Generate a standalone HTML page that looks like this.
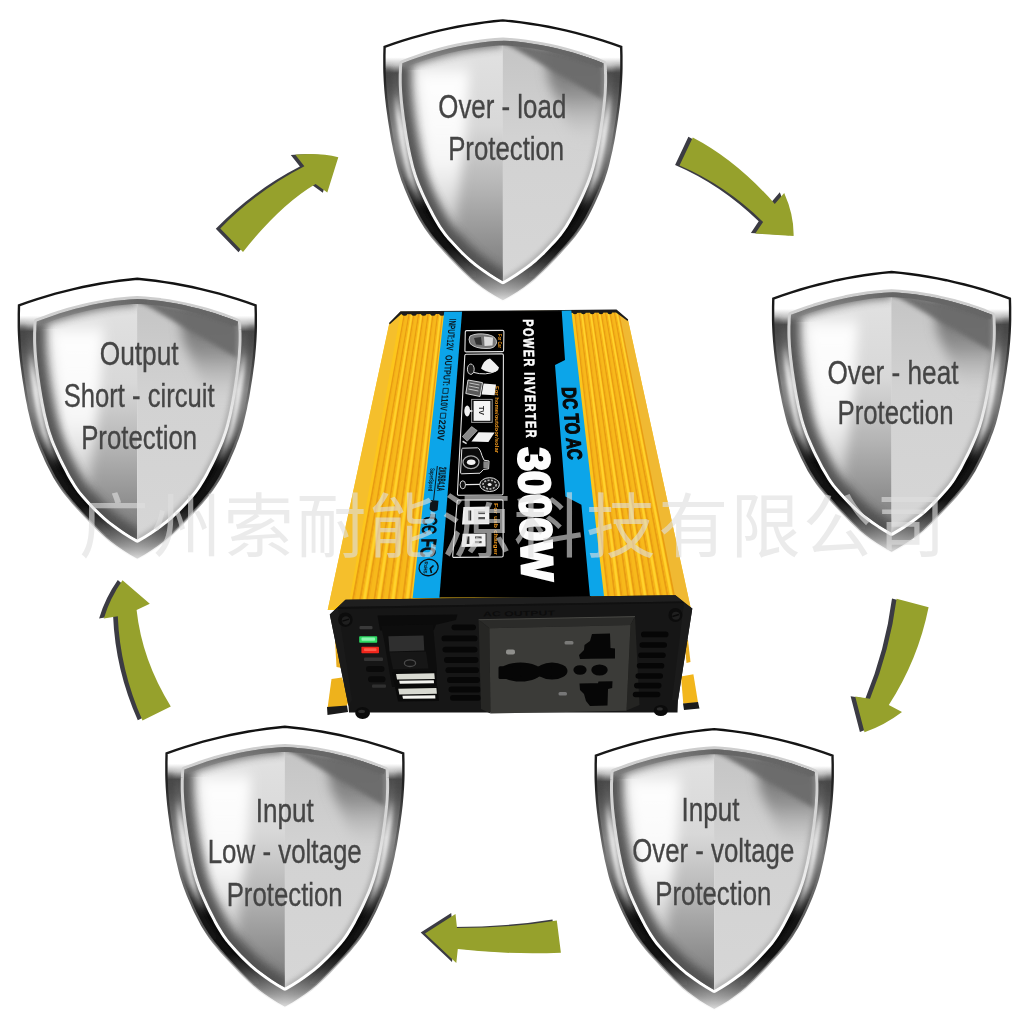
<!DOCTYPE html>
<html><head><meta charset="utf-8"><title>Power inverter protections</title>
<style>
html,body{margin:0;padding:0;background:#fff;}
body{width:1024px;height:1024px;overflow:hidden;font-family:"Liberation Sans",sans-serif;}
svg{display:block}
</style></head><body>
<svg width="1024" height="1024" viewBox="0 0 1024 1024">

<defs>
<linearGradient id="rimG" gradientUnits="userSpaceOnUse" x1="0" y1="0" x2="0" y2="284">
<stop offset="0" stop-color="#fff"/><stop offset=".13" stop-color="#fff"/>
<stop offset=".158" stop-color="#c0c0c0"/><stop offset=".185" stop-color="#4c4c4c"/>
<stop offset=".235" stop-color="#5c5c5c"/><stop offset=".30" stop-color="#868686"/><stop offset=".39" stop-color="#c0c0c0"/>
<stop offset=".47" stop-color="#9a9a9a"/><stop offset=".55" stop-color="#666"/>
<stop offset=".61" stop-color="#333"/><stop offset=".67" stop-color="#0a0a0a"/><stop offset=".80" stop-color="#0c0c0c"/>
<stop offset=".85" stop-color="#333"/><stop offset=".90" stop-color="#6a6a6a"/><stop offset=".94" stop-color="#9c9c9c"/>
<stop offset=".975" stop-color="#cfcfcf"/><stop offset="1" stop-color="#f2f2f2"/>
</linearGradient>
<linearGradient id="olG" gradientUnits="userSpaceOnUse" x1="0" y1="0" x2="0" y2="284">
<stop offset="0" stop-color="#111"/><stop offset=".2" stop-color="#222"/>
<stop offset=".45" stop-color="#777"/><stop offset=".7" stop-color="#555"/>
<stop offset=".88" stop-color="#999" stop-opacity=".5"/><stop offset="1" stop-color="#ccc" stop-opacity="0"/>
</linearGradient>
<linearGradient id="bevG" gradientUnits="userSpaceOnUse" x1="0" y1="20" x2="0" y2="265">
<stop offset="0" stop-color="#cdcdcd"/><stop offset=".3" stop-color="#d6d6d6"/><stop offset=".55" stop-color="#eee"/><stop offset=".75" stop-color="#fff"/><stop offset="1" stop-color="#fff"/>
</linearGradient>
<linearGradient id="faceL" gradientUnits="userSpaceOnUse" x1="0" y1="21" x2="0" y2="262">
<stop offset="0" stop-color="#e2e2e2"/><stop offset=".35" stop-color="#d8d8d8"/><stop offset=".6" stop-color="#b6b6b6"/>
<stop offset=".85" stop-color="#8e8e8e"/><stop offset="1" stop-color="#787878"/>
</linearGradient>
<linearGradient id="faceR" gradientUnits="userSpaceOnUse" x1="0" y1="21" x2="0" y2="262">
<stop offset="0" stop-color="#c4c4c4"/><stop offset=".4" stop-color="#d2d2d2"/><stop offset="1" stop-color="#d6d6d6"/>
</linearGradient>
<linearGradient id="shadR" gradientUnits="userSpaceOnUse" x1="0" y1="25" x2="0" y2="100">
<stop offset="0" stop-color="#666" stop-opacity="1"/><stop offset=".3" stop-color="#777" stop-opacity=".95"/><stop offset=".6" stop-color="#999" stop-opacity=".6"/><stop offset="1" stop-color="#d2d2d2" stop-opacity="0"/>
</linearGradient>
<linearGradient id="shadR2" gradientUnits="userSpaceOnUse" x1="0" y1="40" x2="0" y2="122">
<stop offset="0" stop-color="#707070" stop-opacity="1"/><stop offset=".4" stop-color="#858585" stop-opacity=".85"/><stop offset="1" stop-color="#c8c8c8" stop-opacity="0"/>
</linearGradient>
<linearGradient id="hlMask" gradientUnits="userSpaceOnUse" x1="0" y1="40" x2="0" y2="262">
<stop offset="0" stop-color="#fff" stop-opacity=".0"/><stop offset=".08" stop-color="#fff" stop-opacity=".95"/><stop offset=".45" stop-color="#fff" stop-opacity=".85"/>
<stop offset=".8" stop-color="#fff" stop-opacity=".25"/><stop offset="1" stop-color="#fff" stop-opacity="0"/>
</linearGradient>
<linearGradient id="rimHl" gradientUnits="userSpaceOnUse" x1="0" y1="0" x2="0" y2="284">
<stop offset="0" stop-color="#fff" stop-opacity="0"/><stop offset=".26" stop-color="#fff" stop-opacity=".0"/><stop offset=".34" stop-color="#fff" stop-opacity=".8"/><stop offset=".42" stop-color="#fff" stop-opacity="1"/>
<stop offset=".55" stop-color="#fff" stop-opacity=".8"/><stop offset=".65" stop-color="#fff" stop-opacity="0"/><stop offset="1" stop-color="#fff" stop-opacity="0"/>
</linearGradient>
<linearGradient id="rimDk" gradientUnits="userSpaceOnUse" x1="0" y1="0" x2="0" y2="284">
<stop offset="0" stop-color="#444" stop-opacity="0"/><stop offset=".15" stop-color="#444" stop-opacity="0"/><stop offset=".2" stop-color="#444" stop-opacity=".8"/>
<stop offset=".3" stop-color="#555" stop-opacity=".7"/><stop offset=".45" stop-color="#666" stop-opacity=".6"/><stop offset=".6" stop-color="#333" stop-opacity=".3"/><stop offset="1" stop-color="#333" stop-opacity="0"/>
</linearGradient>
<linearGradient id="bandG" gradientUnits="userSpaceOnUse" x1="-101" y1="0" x2="101" y2="0">
<stop offset="0" stop-color="#777" stop-opacity=".25"/><stop offset=".3" stop-color="#6e6e6e" stop-opacity=".7"/><stop offset=".5" stop-color="#666" stop-opacity="1"/><stop offset="1" stop-color="#666" stop-opacity=".9"/>
</linearGradient>
<filter id="b05" x="-10%" y="-30%" width="120%" height="160%"><feGaussianBlur stdDeviation=".6"/></filter>
<filter id="b1" x="-20%" y="-20%" width="140%" height="140%"><feGaussianBlur stdDeviation="1"/></filter>
<filter id="b2" x="-20%" y="-20%" width="140%" height="140%"><feGaussianBlur stdDeviation="2"/></filter>
<filter id="b4" x="-30%" y="-30%" width="160%" height="160%"><feGaussianBlur stdDeviation="4"/></filter>
<filter id="b6" x="-30%" y="-30%" width="160%" height="160%"><feGaussianBlur stdDeviation="6"/></filter>
<clipPath id="cFace"><path d="M-0,20.2 L-7.7,20.7 L-15.5,21.4 L-23.2,22.3 L-31,23.5 L-38.7,24.8 L-46.4,26.3 L-54.2,28.1 L-61.9,30 L-69.6,32.2 L-77.4,34.5 L-85.1,37.1 L-92.9,39.9 L-100.6,42.8 L-100.9,46.9 L-101,50.6 L-101.2,54.3 L-101.2,58 L-101.2,61.6 L-101.1,65.3 L-100.9,69 L-100.7,72.7 L-100.4,76.4 L-100.1,80.1 L-99.7,83.8 L-99.3,87.5 L-98.8,91.1 L-98.4,94.8 L-97.9,98.5 L-97.3,102.2 L-96.8,105.9 L-96.2,109.6 L-95.6,113.3 L-95,117 L-94.3,120.7 L-93.7,124.3 L-92.9,128 L-92.2,131.7 L-91.4,135.4 L-90.5,139.1 L-89.6,142.8 L-88.7,146.5 L-87.6,150.2 L-86.5,153.8 L-85.2,157.5 L-83.9,161.2 L-82.4,164.9 L-80.8,168.6 L-79.2,172.3 L-77.5,176 L-75.8,179.7 L-74,183.3 L-72.1,187 L-70.2,190.7 L-68.3,194.4 L-66.2,198.1 L-64,201.8 L-61.8,205.5 L-59.3,209.2 L-56.6,212.9 L-53.6,216.5 L-50.3,220.2 L-46.9,223.9 L-43.4,227.6 L-39.8,231.3 L-35.9,235 L-31.9,238.7 L-27.5,242.4 L-22.7,246 L-17.6,249.7 L-12.2,253.4 L-6.3,257.1 L-0,260.8 L6.3,257.1 L12.2,253.4 L17.6,249.7 L22.7,246 L27.5,242.4 L31.9,238.7 L35.9,235 L39.8,231.3 L43.4,227.6 L46.9,223.9 L50.3,220.2 L53.6,216.5 L56.6,212.9 L59.3,209.2 L61.8,205.5 L64,201.8 L66.2,198.1 L68.3,194.4 L70.2,190.7 L72.1,187 L74,183.3 L75.8,179.7 L77.5,176 L79.2,172.3 L80.8,168.6 L82.4,164.9 L83.9,161.2 L85.2,157.5 L86.5,153.8 L87.6,150.2 L88.7,146.5 L89.6,142.8 L90.5,139.1 L91.4,135.4 L92.2,131.7 L92.9,128 L93.7,124.3 L94.3,120.7 L95,117 L95.6,113.3 L96.2,109.6 L96.8,105.9 L97.3,102.2 L97.9,98.5 L98.4,94.8 L98.8,91.1 L99.3,87.5 L99.7,83.8 L100.1,80.1 L100.4,76.4 L100.7,72.7 L100.9,69 L101.1,65.3 L101.2,61.6 L101.2,58 L101.2,54.3 L101,50.6 L100.9,46.9 L100.6,43.2 L92.9,39.9 L85.1,37.1 L77.4,34.5 L69.6,32.2 L61.9,30 L54.2,28.1 L46.4,26.3 L38.7,24.8 L31,23.5 L23.2,22.3 L15.5,21.4 L7.7,20.7 L0,20.2Z"/></clipPath>
<clipPath id="cFaceL"><path d="M-0,20.2 L-7.7,20.7 L-15.5,21.4 L-23.2,22.3 L-31,23.5 L-38.7,24.8 L-46.4,26.3 L-54.2,28.1 L-61.9,30 L-69.6,32.2 L-77.4,34.5 L-85.1,37.1 L-92.9,39.9 L-100.6,42.8 L-100.9,46.9 L-101,50.6 L-101.2,54.3 L-101.2,58 L-101.2,61.6 L-101.1,65.3 L-100.9,69 L-100.7,72.7 L-100.4,76.4 L-100.1,80.1 L-99.7,83.8 L-99.3,87.5 L-98.8,91.1 L-98.4,94.8 L-97.9,98.5 L-97.3,102.2 L-96.8,105.9 L-96.2,109.6 L-95.6,113.3 L-95,117 L-94.3,120.7 L-93.7,124.3 L-92.9,128 L-92.2,131.7 L-91.4,135.4 L-90.5,139.1 L-89.6,142.8 L-88.7,146.5 L-87.6,150.2 L-86.5,153.8 L-85.2,157.5 L-83.9,161.2 L-82.4,164.9 L-80.8,168.6 L-79.2,172.3 L-77.5,176 L-75.8,179.7 L-74,183.3 L-72.1,187 L-70.2,190.7 L-68.3,194.4 L-66.2,198.1 L-64,201.8 L-61.8,205.5 L-59.3,209.2 L-56.6,212.9 L-53.6,216.5 L-50.3,220.2 L-46.9,223.9 L-43.4,227.6 L-39.8,231.3 L-35.9,235 L-31.9,238.7 L-27.5,242.4 L-22.7,246 L-17.6,249.7 L-12.2,253.4 L-6.3,257.1 L-0,260.8Z"/></clipPath>
<clipPath id="cFaceR"><path d="M0,20.2 L7.7,20.7 L15.5,21.4 L23.2,22.3 L31,23.5 L38.7,24.8 L46.4,26.3 L54.2,28.1 L61.9,30 L69.6,32.2 L77.4,34.5 L85.1,37.1 L92.9,39.9 L100.6,42.8 L100.9,46.9 L101,50.6 L101.2,54.3 L101.2,58 L101.2,61.6 L101.1,65.3 L100.9,69 L100.7,72.7 L100.4,76.4 L100.1,80.1 L99.7,83.8 L99.3,87.5 L98.8,91.1 L98.4,94.8 L97.9,98.5 L97.3,102.2 L96.8,105.9 L96.2,109.6 L95.6,113.3 L95,117 L94.3,120.7 L93.7,124.3 L92.9,128 L92.2,131.7 L91.4,135.4 L90.5,139.1 L89.6,142.8 L88.7,146.5 L87.6,150.2 L86.5,153.8 L85.2,157.5 L83.9,161.2 L82.4,164.9 L80.8,168.6 L79.2,172.3 L77.5,176 L75.8,179.7 L74,183.3 L72.1,187 L70.2,190.7 L68.3,194.4 L66.2,198.1 L64,201.8 L61.8,205.5 L59.3,209.2 L56.6,212.9 L53.6,216.5 L50.3,220.2 L46.9,223.9 L43.4,227.6 L39.8,231.3 L35.9,235 L31.9,238.7 L27.5,242.4 L22.7,246 L17.6,249.7 L12.2,253.4 L6.3,257.1 L0,260.8Z"/></clipPath>
<clipPath id="cOuter"><path d="M-0,0 L-9.1,0.9 L-18.2,2 L-27.3,3.3 L-36.4,4.7 L-45.5,6.4 L-54.6,8.2 L-63.7,10.3 L-72.8,12.5 L-81.9,14.9 L-91,17.5 L-100.1,20.3 L-109.2,23.3 L-118.3,26.5 L-118.4,30.8 L-118.5,35.1 L-118.5,39.4 L-118.5,43.7 L-118.5,48 L-118.4,52.3 L-118.2,56.6 L-118,60.9 L-117.7,65.2 L-117.4,69.4 L-117,73.7 L-116.6,78 L-116.1,82.3 L-115.6,86.6 L-115,90.9 L-114.4,95.2 L-113.8,99.5 L-113.1,103.8 L-112.4,108.1 L-111.7,112.4 L-111,116.7 L-110.2,121 L-109.3,125.3 L-108.5,129.6 L-107.5,133.9 L-106.5,138.2 L-105.5,142.5 L-104.4,146.8 L-103.2,151.1 L-101.8,155.3 L-100.4,159.6 L-98.7,163.9 L-97.1,168.2 L-95.3,172.5 L-93.4,176.8 L-91.5,181.1 L-89.5,185.4 L-87.3,189.7 L-85.1,194 L-82.8,198.3 L-80.2,202.6 L-77.5,206.9 L-74.5,211.2 L-71.3,215.5 L-67.8,219.8 L-64.2,224.1 L-60.4,228.4 L-56.5,232.7 L-52.6,237 L-48.6,241.2 L-44.5,245.5 L-40.3,249.8 L-35.9,254.1 L-31.4,258.4 L-26.3,262.7 L-20.6,267 L-14.4,271.3 L-7.5,275.6 L0,279.9 L7.5,275.6 L14.4,271.3 L20.6,267 L26.3,262.7 L31.4,258.4 L35.9,254.1 L40.3,249.8 L44.5,245.5 L48.6,241.2 L52.6,237 L56.5,232.7 L60.4,228.4 L64.2,224.1 L67.8,219.8 L71.3,215.5 L74.5,211.2 L77.5,206.9 L80.2,202.6 L82.8,198.3 L85.1,194 L87.3,189.7 L89.5,185.4 L91.5,181.1 L93.4,176.8 L95.3,172.5 L97.1,168.2 L98.7,163.9 L100.4,159.6 L101.8,155.3 L103.2,151.1 L104.4,146.8 L105.5,142.5 L106.5,138.2 L107.5,133.9 L108.5,129.6 L109.3,125.3 L110.2,121 L111,116.7 L111.7,112.4 L112.4,108.1 L113.1,103.8 L113.8,99.5 L114.4,95.2 L115,90.9 L115.6,86.6 L116.1,82.3 L116.6,78 L117,73.7 L117.4,69.4 L117.7,65.2 L118,60.9 L118.2,56.6 L118.4,52.3 L118.5,48 L118.5,43.7 L118.5,39.4 L118.5,35.1 L118.4,30.8 L118.3,26.5 L109.2,23.3 L100.1,20.3 L91,17.5 L81.9,14.9 L72.8,12.5 L63.7,10.3 L54.6,8.2 L45.5,6.4 L36.4,4.7 L27.3,3.3 L18.2,2 L9.1,0.9 L0,0Z"/></clipPath>
<g id="shield">
  <path d="M-0,0 L-9.1,0.9 L-18.2,2 L-27.3,3.3 L-36.4,4.7 L-45.5,6.4 L-54.6,8.2 L-63.7,10.3 L-72.8,12.5 L-81.9,14.9 L-91,17.5 L-100.1,20.3 L-109.2,23.3 L-118.3,26.5 L-118.4,30.8 L-118.5,35.1 L-118.5,39.4 L-118.5,43.7 L-118.5,48 L-118.4,52.3 L-118.2,56.6 L-118,60.9 L-117.7,65.2 L-117.4,69.4 L-117,73.7 L-116.6,78 L-116.1,82.3 L-115.6,86.6 L-115,90.9 L-114.4,95.2 L-113.8,99.5 L-113.1,103.8 L-112.4,108.1 L-111.7,112.4 L-111,116.7 L-110.2,121 L-109.3,125.3 L-108.5,129.6 L-107.5,133.9 L-106.5,138.2 L-105.5,142.5 L-104.4,146.8 L-103.2,151.1 L-101.8,155.3 L-100.4,159.6 L-98.7,163.9 L-97.1,168.2 L-95.3,172.5 L-93.4,176.8 L-91.5,181.1 L-89.5,185.4 L-87.3,189.7 L-85.1,194 L-82.8,198.3 L-80.2,202.6 L-77.5,206.9 L-74.5,211.2 L-71.3,215.5 L-67.8,219.8 L-64.2,224.1 L-60.4,228.4 L-56.5,232.7 L-52.6,237 L-48.6,241.2 L-44.5,245.5 L-40.3,249.8 L-35.9,254.1 L-31.4,258.4 L-26.3,262.7 L-20.6,267 L-14.4,271.3 L-7.5,275.6 L0,279.9 L7.5,275.6 L14.4,271.3 L20.6,267 L26.3,262.7 L31.4,258.4 L35.9,254.1 L40.3,249.8 L44.5,245.5 L48.6,241.2 L52.6,237 L56.5,232.7 L60.4,228.4 L64.2,224.1 L67.8,219.8 L71.3,215.5 L74.5,211.2 L77.5,206.9 L80.2,202.6 L82.8,198.3 L85.1,194 L87.3,189.7 L89.5,185.4 L91.5,181.1 L93.4,176.8 L95.3,172.5 L97.1,168.2 L98.7,163.9 L100.4,159.6 L101.8,155.3 L103.2,151.1 L104.4,146.8 L105.5,142.5 L106.5,138.2 L107.5,133.9 L108.5,129.6 L109.3,125.3 L110.2,121 L111,116.7 L111.7,112.4 L112.4,108.1 L113.1,103.8 L113.8,99.5 L114.4,95.2 L115,90.9 L115.6,86.6 L116.1,82.3 L116.6,78 L117,73.7 L117.4,69.4 L117.7,65.2 L118,60.9 L118.2,56.6 L118.4,52.3 L118.5,48 L118.5,43.7 L118.5,39.4 L118.5,35.1 L118.4,30.8 L118.3,26.5 L109.2,23.3 L100.1,20.3 L91,17.5 L81.9,14.9 L72.8,12.5 L63.7,10.3 L54.6,8.2 L45.5,6.4 L36.4,4.7 L27.3,3.3 L18.2,2 L9.1,0.9 L0,0Z" fill="url(#rimG)"/>
  <g clip-path="url(#cOuter)">
    <path d="M-0,10.5 L-8.4,11.2 L-16.8,12.1 L-25.2,13.1 L-33.5,14.4 L-41.9,15.9 L-50.3,17.6 L-58.7,19.4 L-67.1,21.5 L-75.5,23.8 L-83.8,26.2 L-92.2,28.9 L-100.6,31.7 L-109,34.8 L-109.1,39 L-109.2,43 L-109.3,47 L-109.3,51 L-109.3,55 L-109.1,59 L-109,63 L-108.8,66.9 L-108.5,70.9 L-108.2,74.9 L-107.8,78.9 L-107.4,82.9 L-107,86.9 L-106.5,90.9 L-106,94.9 L-105.4,98.9 L-104.8,102.9 L-104.2,106.9 L-103.6,110.9 L-102.9,114.9 L-102.3,118.9 L-101.5,122.9 L-100.8,126.8 L-100,130.8 L-99.1,134.8 L-98.2,138.8 L-97.2,142.8 L-96.2,146.8 L-95.1,150.8 L-93.8,154.8 L-92.4,158.8 L-90.9,162.8 L-89.4,166.8 L-87.7,170.8 L-86,174.8 L-84.2,178.8 L-82.4,182.7 L-80.6,186.7 L-78.7,190.7 L-76.7,194.7 L-74.6,198.7 L-72.4,202.7 L-69.9,206.7 L-67.2,210.7 L-64.2,214.7 L-60.8,218.7 L-57.2,222.7 L-53.5,226.7 L-49.8,230.7 L-45.9,234.7 L-41.9,238.7 L-37.9,242.6 L-33.7,246.6 L-29.2,250.6 L-24.3,254.6 L-18.8,258.6 L-12.8,262.6 L-6.5,266.6 L-0,270.6 L6.5,266.6 L12.8,262.6 L18.8,258.6 L24.3,254.6 L29.2,250.6 L33.7,246.6 L37.9,242.6 L41.9,238.7 L45.9,234.7 L49.8,230.7 L53.5,226.7 L57.2,222.7 L60.8,218.7 L64.2,214.7 L67.2,210.7 L69.9,206.7 L72.4,202.7 L74.6,198.7 L76.7,194.7 L78.7,190.7 L80.6,186.7 L82.4,182.7 L84.2,178.8 L86,174.8 L87.7,170.8 L89.4,166.8 L90.9,162.8 L92.4,158.8 L93.8,154.8 L95.1,150.8 L96.2,146.8 L97.2,142.8 L98.2,138.8 L99.1,134.8 L100,130.8 L100.8,126.8 L101.5,122.9 L102.3,118.9 L102.9,114.9 L103.6,110.9 L104.2,106.9 L104.8,102.9 L105.4,98.9 L106,94.9 L106.5,90.9 L107,86.9 L107.4,82.9 L107.8,78.9 L108.2,74.9 L108.5,70.9 L108.8,66.9 L109,63 L109.1,59 L109.3,55 L109.3,51 L109.3,47 L109.2,43 L109.1,39 L109,35 L100.6,31.7 L92.2,28.9 L83.8,26.2 L75.5,23.8 L67.1,21.5 L58.7,19.4 L50.3,17.6 L41.9,15.9 L33.5,14.4 L25.2,13.1 L16.8,12.1 L8.4,11.2 L0,10.5Z" fill="none" stroke="url(#rimHl)" stroke-width="6" filter="url(#b2)"/>
  </g>
  <g clip-path="url(#cOuter)"><path d="M-0,0 L-9.1,0.9 L-18.2,2 L-27.3,3.3 L-36.4,4.7 L-45.5,6.4 L-54.6,8.2 L-63.7,10.3 L-72.8,12.5 L-81.9,14.9 L-91,17.5 L-100.1,20.3 L-109.2,23.3 L-118.3,26.5 L-118.4,30.8 L-118.5,35.1 L-118.5,39.4 L-118.5,43.7 L-118.5,48 L-118.4,52.3 L-118.2,56.6 L-118,60.9 L-117.7,65.2 L-117.4,69.4 L-117,73.7 L-116.6,78 L-116.1,82.3 L-115.6,86.6 L-115,90.9 L-114.4,95.2 L-113.8,99.5 L-113.1,103.8 L-112.4,108.1 L-111.7,112.4 L-111,116.7 L-110.2,121 L-109.3,125.3 L-108.5,129.6 L-107.5,133.9 L-106.5,138.2 L-105.5,142.5 L-104.4,146.8 L-103.2,151.1 L-101.8,155.3 L-100.4,159.6 L-98.7,163.9 L-97.1,168.2 L-95.3,172.5 L-93.4,176.8 L-91.5,181.1 L-89.5,185.4 L-87.3,189.7 L-85.1,194 L-82.8,198.3 L-80.2,202.6 L-77.5,206.9 L-74.5,211.2 L-71.3,215.5 L-67.8,219.8 L-64.2,224.1 L-60.4,228.4 L-56.5,232.7 L-52.6,237 L-48.6,241.2 L-44.5,245.5 L-40.3,249.8 L-35.9,254.1 L-31.4,258.4 L-26.3,262.7 L-20.6,267 L-14.4,271.3 L-7.5,275.6 L0,279.9 L7.5,275.6 L14.4,271.3 L20.6,267 L26.3,262.7 L31.4,258.4 L35.9,254.1 L40.3,249.8 L44.5,245.5 L48.6,241.2 L52.6,237 L56.5,232.7 L60.4,228.4 L64.2,224.1 L67.8,219.8 L71.3,215.5 L74.5,211.2 L77.5,206.9 L80.2,202.6 L82.8,198.3 L85.1,194 L87.3,189.7 L89.5,185.4 L91.5,181.1 L93.4,176.8 L95.3,172.5 L97.1,168.2 L98.7,163.9 L100.4,159.6 L101.8,155.3 L103.2,151.1 L104.4,146.8 L105.5,142.5 L106.5,138.2 L107.5,133.9 L108.5,129.6 L109.3,125.3 L110.2,121 L111,116.7 L111.7,112.4 L112.4,108.1 L113.1,103.8 L113.8,99.5 L114.4,95.2 L115,90.9 L115.6,86.6 L116.1,82.3 L116.6,78 L117,73.7 L117.4,69.4 L117.7,65.2 L118,60.9 L118.2,56.6 L118.4,52.3 L118.5,48 L118.5,43.7 L118.5,39.4 L118.5,35.1 L118.4,30.8 L118.3,26.5 L109.2,23.3 L100.1,20.3 L91,17.5 L81.9,14.9 L72.8,12.5 L63.7,10.3 L54.6,8.2 L45.5,6.4 L36.4,4.7 L27.3,3.3 L18.2,2 L9.1,0.9 L0,0Z" fill="none" stroke="url(#rimDk)" stroke-width="15" filter="url(#b2)"/></g>
  <path d="M-0,0 L-9.1,0.9 L-18.2,2 L-27.3,3.3 L-36.4,4.7 L-45.5,6.4 L-54.6,8.2 L-63.7,10.3 L-72.8,12.5 L-81.9,14.9 L-91,17.5 L-100.1,20.3 L-109.2,23.3 L-118.3,26.5 L-118.4,30.8 L-118.5,35.1 L-118.5,39.4 L-118.5,43.7 L-118.5,48 L-118.4,52.3 L-118.2,56.6 L-118,60.9 L-117.7,65.2 L-117.4,69.4 L-117,73.7 L-116.6,78 L-116.1,82.3 L-115.6,86.6 L-115,90.9 L-114.4,95.2 L-113.8,99.5 L-113.1,103.8 L-112.4,108.1 L-111.7,112.4 L-111,116.7 L-110.2,121 L-109.3,125.3 L-108.5,129.6 L-107.5,133.9 L-106.5,138.2 L-105.5,142.5 L-104.4,146.8 L-103.2,151.1 L-101.8,155.3 L-100.4,159.6 L-98.7,163.9 L-97.1,168.2 L-95.3,172.5 L-93.4,176.8 L-91.5,181.1 L-89.5,185.4 L-87.3,189.7 L-85.1,194 L-82.8,198.3 L-80.2,202.6 L-77.5,206.9 L-74.5,211.2 L-71.3,215.5 L-67.8,219.8 L-64.2,224.1 L-60.4,228.4 L-56.5,232.7 L-52.6,237 L-48.6,241.2 L-44.5,245.5 L-40.3,249.8 L-35.9,254.1 L-31.4,258.4 L-26.3,262.7 L-20.6,267 L-14.4,271.3 L-7.5,275.6 L0,279.9 L7.5,275.6 L14.4,271.3 L20.6,267 L26.3,262.7 L31.4,258.4 L35.9,254.1 L40.3,249.8 L44.5,245.5 L48.6,241.2 L52.6,237 L56.5,232.7 L60.4,228.4 L64.2,224.1 L67.8,219.8 L71.3,215.5 L74.5,211.2 L77.5,206.9 L80.2,202.6 L82.8,198.3 L85.1,194 L87.3,189.7 L89.5,185.4 L91.5,181.1 L93.4,176.8 L95.3,172.5 L97.1,168.2 L98.7,163.9 L100.4,159.6 L101.8,155.3 L103.2,151.1 L104.4,146.8 L105.5,142.5 L106.5,138.2 L107.5,133.9 L108.5,129.6 L109.3,125.3 L110.2,121 L111,116.7 L111.7,112.4 L112.4,108.1 L113.1,103.8 L113.8,99.5 L114.4,95.2 L115,90.9 L115.6,86.6 L116.1,82.3 L116.6,78 L117,73.7 L117.4,69.4 L117.7,65.2 L118,60.9 L118.2,56.6 L118.4,52.3 L118.5,48 L118.5,43.7 L118.5,39.4 L118.5,35.1 L118.4,30.8 L118.3,26.5 L109.2,23.3 L100.1,20.3 L91,17.5 L81.9,14.9 L72.8,12.5 L63.7,10.3 L54.6,8.2 L45.5,6.4 L36.4,4.7 L27.3,3.3 L18.2,2 L9.1,0.9 L0,0Z" fill="none" stroke="url(#olG)" stroke-width="2.4" stroke-linejoin="miter"/>
  <path d="M-0,20.2 L-7.7,20.7 L-15.5,21.4 L-23.2,22.3 L-31,23.5 L-38.7,24.8 L-46.4,26.3 L-54.2,28.1 L-61.9,30 L-69.6,32.2 L-77.4,34.5 L-85.1,37.1 L-92.9,39.9 L-100.6,42.8 L-100.9,46.9 L-101,50.6 L-101.2,54.3 L-101.2,58 L-101.2,61.6 L-101.1,65.3 L-100.9,69 L-100.7,72.7 L-100.4,76.4 L-100.1,80.1 L-99.7,83.8 L-99.3,87.5 L-98.8,91.1 L-98.4,94.8 L-97.9,98.5 L-97.3,102.2 L-96.8,105.9 L-96.2,109.6 L-95.6,113.3 L-95,117 L-94.3,120.7 L-93.7,124.3 L-92.9,128 L-92.2,131.7 L-91.4,135.4 L-90.5,139.1 L-89.6,142.8 L-88.7,146.5 L-87.6,150.2 L-86.5,153.8 L-85.2,157.5 L-83.9,161.2 L-82.4,164.9 L-80.8,168.6 L-79.2,172.3 L-77.5,176 L-75.8,179.7 L-74,183.3 L-72.1,187 L-70.2,190.7 L-68.3,194.4 L-66.2,198.1 L-64,201.8 L-61.8,205.5 L-59.3,209.2 L-56.6,212.9 L-53.6,216.5 L-50.3,220.2 L-46.9,223.9 L-43.4,227.6 L-39.8,231.3 L-35.9,235 L-31.9,238.7 L-27.5,242.4 L-22.7,246 L-17.6,249.7 L-12.2,253.4 L-6.3,257.1 L-0,260.8 L6.3,257.1 L12.2,253.4 L17.6,249.7 L22.7,246 L27.5,242.4 L31.9,238.7 L35.9,235 L39.8,231.3 L43.4,227.6 L46.9,223.9 L50.3,220.2 L53.6,216.5 L56.6,212.9 L59.3,209.2 L61.8,205.5 L64,201.8 L66.2,198.1 L68.3,194.4 L70.2,190.7 L72.1,187 L74,183.3 L75.8,179.7 L77.5,176 L79.2,172.3 L80.8,168.6 L82.4,164.9 L83.9,161.2 L85.2,157.5 L86.5,153.8 L87.6,150.2 L88.7,146.5 L89.6,142.8 L90.5,139.1 L91.4,135.4 L92.2,131.7 L92.9,128 L93.7,124.3 L94.3,120.7 L95,117 L95.6,113.3 L96.2,109.6 L96.8,105.9 L97.3,102.2 L97.9,98.5 L98.4,94.8 L98.8,91.1 L99.3,87.5 L99.7,83.8 L100.1,80.1 L100.4,76.4 L100.7,72.7 L100.9,69 L101.1,65.3 L101.2,61.6 L101.2,58 L101.2,54.3 L101,50.6 L100.9,46.9 L100.6,43.2 L92.9,39.9 L85.1,37.1 L77.4,34.5 L69.6,32.2 L61.9,30 L54.2,28.1 L46.4,26.3 L38.7,24.8 L31,23.5 L23.2,22.3 L15.5,21.4 L7.7,20.7 L0,20.2Z" fill="url(#bevG)" stroke="url(#bevG)" stroke-width="6" stroke-linejoin="round"/>
  <path d="M-0,20.2 L-7.7,20.7 L-15.5,21.4 L-23.2,22.3 L-31,23.5 L-38.7,24.8 L-46.4,26.3 L-54.2,28.1 L-61.9,30 L-69.6,32.2 L-77.4,34.5 L-85.1,37.1 L-92.9,39.9 L-100.6,42.8 L-100.9,46.9 L-101,50.6 L-101.2,54.3 L-101.2,58 L-101.2,61.6 L-101.1,65.3 L-100.9,69 L-100.7,72.7 L-100.4,76.4 L-100.1,80.1 L-99.7,83.8 L-99.3,87.5 L-98.8,91.1 L-98.4,94.8 L-97.9,98.5 L-97.3,102.2 L-96.8,105.9 L-96.2,109.6 L-95.6,113.3 L-95,117 L-94.3,120.7 L-93.7,124.3 L-92.9,128 L-92.2,131.7 L-91.4,135.4 L-90.5,139.1 L-89.6,142.8 L-88.7,146.5 L-87.6,150.2 L-86.5,153.8 L-85.2,157.5 L-83.9,161.2 L-82.4,164.9 L-80.8,168.6 L-79.2,172.3 L-77.5,176 L-75.8,179.7 L-74,183.3 L-72.1,187 L-70.2,190.7 L-68.3,194.4 L-66.2,198.1 L-64,201.8 L-61.8,205.5 L-59.3,209.2 L-56.6,212.9 L-53.6,216.5 L-50.3,220.2 L-46.9,223.9 L-43.4,227.6 L-39.8,231.3 L-35.9,235 L-31.9,238.7 L-27.5,242.4 L-22.7,246 L-17.6,249.7 L-12.2,253.4 L-6.3,257.1 L-0,260.8Z" fill="url(#faceL)"/>
  <path d="M0,20.2 L7.7,20.7 L15.5,21.4 L23.2,22.3 L31,23.5 L38.7,24.8 L46.4,26.3 L54.2,28.1 L61.9,30 L69.6,32.2 L77.4,34.5 L85.1,37.1 L92.9,39.9 L100.6,42.8 L100.9,46.9 L101,50.6 L101.2,54.3 L101.2,58 L101.2,61.6 L101.1,65.3 L100.9,69 L100.7,72.7 L100.4,76.4 L100.1,80.1 L99.7,83.8 L99.3,87.5 L98.8,91.1 L98.4,94.8 L97.9,98.5 L97.3,102.2 L96.8,105.9 L96.2,109.6 L95.6,113.3 L95,117 L94.3,120.7 L93.7,124.3 L92.9,128 L92.2,131.7 L91.4,135.4 L90.5,139.1 L89.6,142.8 L88.7,146.5 L87.6,150.2 L86.5,153.8 L85.2,157.5 L83.9,161.2 L82.4,164.9 L80.8,168.6 L79.2,172.3 L77.5,176 L75.8,179.7 L74,183.3 L72.1,187 L70.2,190.7 L68.3,194.4 L66.2,198.1 L64,201.8 L61.8,205.5 L59.3,209.2 L56.6,212.9 L53.6,216.5 L50.3,220.2 L46.9,223.9 L43.4,227.6 L39.8,231.3 L35.9,235 L31.9,238.7 L27.5,242.4 L22.7,246 L17.6,249.7 L12.2,253.4 L6.3,257.1 L0,260.8Z" fill="url(#faceR)"/>
  <g clip-path="url(#cFaceL)">
    <path d="M-88,40 L-32,26 L-38,120 L-50,225 L-70,225 L-78,150Z" fill="url(#hlMask)" filter="url(#b6)"/>
    <path d="M-100.6,43.2 L-100.9,46.9 L-101,50.6 L-101.2,54.3 L-101.2,58 L-101.2,61.6 L-101.1,65.3 L-100.9,69 L-100.7,72.7 L-100.4,76.4 L-100.1,80.1 L-99.7,83.8 L-99.3,87.5 L-98.8,91.1 L-98.4,94.8 L-97.9,98.5 L-97.3,102.2 L-96.8,105.9 L-96.2,109.6 L-95.6,113.3 L-95,117 L-94.3,120.7 L-93.7,124.3 L-92.9,128 L-92.2,131.7 L-91.4,135.4 L-90.5,139.1 L-89.6,142.8 L-88.7,146.5 L-87.6,150.2 L-86.5,153.8 L-85.2,157.5 L-83.9,161.2 L-82.4,164.9 L-80.8,168.6 L-79.2,172.3 L-77.5,176 L-75.8,179.7 L-74,183.3 L-72.1,187 L-70.2,190.7 L-68.3,194.4 L-66.2,198.1 L-64,201.8 L-61.8,205.5 L-59.3,209.2 L-56.6,212.9 L-53.6,216.5 L-50.3,220.2 L-46.9,223.9 L-43.4,227.6 L-39.8,231.3 L-35.9,235 L-31.9,238.7 L-27.5,242.4 L-22.7,246 L-17.6,249.7 L-12.2,253.4 L-6.3,257.1 L-0,260.8" fill="none" stroke="#505050" stroke-width="19" filter="url(#b4)" opacity=".95"/>
    <path d="M-0,20.2 L-7.7,20.7 L-15.5,21.4 L-23.2,22.3 L-31,23.5 L-38.7,24.8 L-46.4,26.3 L-54.2,28.1 L-61.9,30 L-69.6,32.2 L-77.4,34.5 L-85.1,37.1 L-92.9,39.9 L-100.6,42.8" fill="none" stroke="#5e5e5e" stroke-width="12" filter="url(#b4)" opacity=".9"/>
  </g>
  <g clip-path="url(#cFaceR)">
    <path d="M42,28 L104,38 L104,122 L72,122 L46,62Z" fill="url(#shadR2)" filter="url(#b6)"/>
    <path d="M0,21.3 L101,40 L101,80Z" fill="#6c6c6c" filter="url(#b2)" opacity=".95"/>
    <path d="M0,20.2 L7.7,20.7 L15.5,21.4 L23.2,22.3 L31,23.5 L38.7,24.8 L46.4,26.3 L54.2,28.1 L61.9,30 L69.6,32.2 L77.4,34.5 L85.1,37.1 L92.9,39.9 L100.6,42.8" fill="none" stroke="#5a5a5a" stroke-width="8" filter="url(#b2)" opacity=".8"/>
    <path d="M100.6,43.2 L100.9,46.9 L101,50.6 L101.2,54.3 L101.2,58 L101.2,61.6 L101.1,65.3 L100.9,69 L100.7,72.7 L100.4,76.4 L100.1,80.1 L99.7,83.8 L99.3,87.5 L98.8,91.1 L98.4,94.8 L97.9,98.5 L97.3,102.2 L96.8,105.9 L96.2,109.6 L95.6,113.3 L95,117 L94.3,120.7 L93.7,124.3 L92.9,128 L92.2,131.7 L91.4,135.4 L90.5,139.1 L89.6,142.8 L88.7,146.5 L87.6,150.2 L86.5,153.8 L85.2,157.5 L83.9,161.2 L82.4,164.9 L80.8,168.6 L79.2,172.3 L77.5,176 L75.8,179.7 L74,183.3 L72.1,187 L70.2,190.7 L68.3,194.4 L66.2,198.1 L64,201.8 L61.8,205.5 L59.3,209.2 L56.6,212.9 L53.6,216.5 L50.3,220.2 L46.9,223.9 L43.4,227.6 L39.8,231.3 L35.9,235 L31.9,238.7 L27.5,242.4 L22.7,246 L17.6,249.7 L12.2,253.4 L6.3,257.1 L0,260.8" fill="none" stroke="#8a8a8a" stroke-width="5" filter="url(#b2)" opacity=".5"/>
  </g>
  <g clip-path="url(#cFace)">
    <path d="M-100.6,42.8 L-92.9,39.9 L-85.1,37.1 L-77.4,34.5 L-69.6,32.2 L-61.9,30 L-54.2,28.1 L-46.4,26.3 L-38.7,24.8 L-31,23.5 L-23.2,22.3 L-15.5,21.4 L-7.7,20.7 L-0,20.2 L7.7,20.7 L15.5,21.4 L23.2,22.3 L31,23.5 L38.7,24.8 L46.4,26.3 L54.2,28.1 L61.9,30 L69.6,32.2 L77.4,34.5 L85.1,37.1 L92.9,39.9 L100.6,42.8" fill="none" stroke="url(#bandG)" stroke-width="9.5" filter="url(#b05)"/>
  </g>
</g>
</defs>
<rect width="1024" height="1024" fill="#fff"/>
<g id="arrows"><path d="M220.3,228.4 Q258,190 304.4,166.3 L295.3,154.7 Q320,152.5 338.3,157.3 L327.3,192.5 L315.6,183.9 Q280,205 243,251.9Z" fill="#3b3b43" transform="translate(-4.5,0.3)"/><path d="M220.3,228.4 Q258,190 304.4,166.3 L295.3,154.7 Q320,152.5 338.3,157.3 L327.3,192.5 L315.6,183.9 Q280,205 243,251.9Z" fill="#96a12c"/><path d="M692.8,137.5 Q736,160 774.8,203.9 L784.2,193 Q794,215 793.6,235.9 L755.3,233.6 L763.1,221.9 Q725,185 679.5,165.6Z" fill="#3b3b43" transform="translate(-4.4,-0.7)"/><path d="M692.8,137.5 Q736,160 774.8,203.9 L784.2,193 Q794,215 793.6,235.9 L755.3,233.6 L763.1,221.9 Q725,185 679.5,165.6Z" fill="#96a12c"/><path d="M896.6,598.8 L928.6,607.3 Q918,660 888.8,705 L902,712 Q885,725 864.5,732.3 L855.2,696.4 L870,698.8 Q890,650 896.6,598.8Z" fill="#3b3b43" transform="translate(-4.6,-0.2)"/><path d="M896.6,598.8 L928.6,607.3 Q918,660 888.8,705 L902,712 Q885,725 864.5,732.3 L855.2,696.4 L870,698.8 Q890,650 896.6,598.8Z" fill="#96a12c"/><path d="M425,933.4 L455.5,913.9 L457,928 Q510,928 556.8,920.4 L560.9,952.7 Q510,955 457.8,949 L456.3,963.1Z" fill="#3b3b43" transform="translate(-4.3,-1.0)"/><path d="M425,933.4 L455.5,913.9 L457,928 Q510,928 556.8,920.4 L560.9,952.7 Q510,955 457.8,949 L456.3,963.1Z" fill="#96a12c"/><path d="M122.5,580.3 L149.8,603.8 L136.6,610 Q142,660 170.8,706.4 L142.5,720.5 Q120,670 117.8,616.3 L103.8,618.6 Q110,598 122.5,580.3Z" fill="#3b3b43" transform="translate(-4.7,-0.2)"/><path d="M122.5,580.3 L149.8,603.8 L136.6,610 Q142,660 170.8,706.4 L142.5,720.5 Q120,670 117.8,616.3 L103.8,618.6 Q110,598 122.5,580.3Z" fill="#96a12c"/></g>
<g id="shields"><use href="#shield" x="0" y="0" transform="translate(502.9,20.4)"/><use href="#shield" x="0" y="0" transform="translate(137.3,278.8)"/><use href="#shield" x="0" y="0" transform="translate(891.6,272.0)"/><use href="#shield" x="0" y="0" transform="translate(284.9,726.8)"/><use href="#shield" x="0" y="0" transform="translate(714.2,729.1)"/></g>
<g font-family="'Liberation Sans', sans-serif" fill="#454545" stroke="#454545" stroke-width=".35" opacity=".995"><text x="502.3" y="118" text-anchor="middle" font-size="34" textLength="128" lengthAdjust="spacingAndGlyphs">Over - load</text><text x="506.2" y="160.2" text-anchor="middle" font-size="34" textLength="116" lengthAdjust="spacingAndGlyphs">Protection</text><text x="139.2" y="365" text-anchor="middle" font-size="34" textLength="79" lengthAdjust="spacingAndGlyphs">Output</text><text x="139.2" y="406.8" text-anchor="middle" font-size="34" textLength="151" lengthAdjust="spacingAndGlyphs">Short - circuit</text><text x="139.2" y="449.2" text-anchor="middle" font-size="34" textLength="116" lengthAdjust="spacingAndGlyphs">Protection</text><text x="893" y="383.8" text-anchor="middle" font-size="34" textLength="131" lengthAdjust="spacingAndGlyphs">Over - heat</text><text x="895.5" y="424.4" text-anchor="middle" font-size="34" textLength="116" lengthAdjust="spacingAndGlyphs">Protection</text><text x="284.7" y="821.9" text-anchor="middle" font-size="34" textLength="58" lengthAdjust="spacingAndGlyphs">Input</text><text x="284.7" y="863.3" text-anchor="middle" font-size="34" textLength="154" lengthAdjust="spacingAndGlyphs">Low - voltage</text><text x="284.7" y="906" text-anchor="middle" font-size="34" textLength="116" lengthAdjust="spacingAndGlyphs">Protection</text><text x="710.5" y="820.8" text-anchor="middle" font-size="34" textLength="58" lengthAdjust="spacingAndGlyphs">Input</text><text x="713.3" y="862.4" text-anchor="middle" font-size="34" textLength="162" lengthAdjust="spacingAndGlyphs">Over - voltage</text><text x="713.3" y="904.6" text-anchor="middle" font-size="34" textLength="116" lengthAdjust="spacingAndGlyphs">Protection</text></g>
<g id="product"><polygon points="331.5,679 342,677.5 349.5,700 346,707 327.5,708.5" fill="#eeb21c"/><polygon points="327,707 347,705.5 348,712 327.5,715" fill="#1a1a1a"/><polygon points="681,676.6 693.4,674.3 698,702.4 683.3,703.8" fill="#f2b61c"/><polygon points="683,703.5 698,702 699.5,708.5 684,710" fill="#1a1a1a"/><polygon points="335,640 340,650 342,668 336.5,667" fill="#e8ad20"/><polygon points="684,640 688,640 690.5,662 686.5,663" fill="#e8ad20"/><polygon points="400.5,311.8 616,310.2 628,320 690.7,608 327.7,610 389.3,323.4" fill="#fcc61c"/><polygon points="389.3,323.4 400.5,313 349.4,600 327.7,610" fill="#f5bf2c"/><polygon points="628,320 617,311 674.9,600 690.7,608" fill="#f0b932"/><polygon points="404.3,313.5 409.1,313.5 359.2,604 352,604" fill="#f7b91b"/><polygon points="403.8,313.5 405.1,313.5 353.2,604 351.2,604" fill="#e89c13"/><polygon points="405.1,313.5 405.8,313.5 354.3,604 353.2,604" fill="#f3ae19"/><polygon points="408.5,313.5 409.8,313.5 360.4,604 358.4,604" fill="#e89c13"/><polygon points="409.8,313.5 410.6,313.5 361.5,604 360.4,604" fill="#f3ae19"/><polygon points="411.2,313.5 412.7,313.5 364.6,604 362.5,604" fill="#ffd22e"/><polygon points="413.9,313.5 418.6,313.5 373.6,604 366.4,604" fill="#f7b91b"/><polygon points="413.3,313.5 414.6,313.5 367.5,604 365.6,604" fill="#e89c13"/><polygon points="414.6,313.5 415.4,313.5 368.7,604 367.5,604" fill="#f3ae19"/><polygon points="418.1,313.5 419.4,313.5 374.7,604 372.8,604" fill="#e89c13"/><polygon points="419.4,313.5 420.1,313.5 375.9,604 374.7,604" fill="#f3ae19"/><polygon points="420.8,313.5 422.2,313.5 379,604 376.8,604" fill="#ffd22e"/><polygon points="423.4,313.5 428.1,313.5 388,604 380.8,604" fill="#f7b91b"/><polygon points="422.8,313.5 424.1,313.5 381.9,604 379.9,604" fill="#e89c13"/><polygon points="424.1,313.5 424.9,313.5 383,604 381.9,604" fill="#f3ae19"/><polygon points="427.6,313.5 428.9,313.5 389.1,604 387.1,604" fill="#e89c13"/><polygon points="428.9,313.5 429.6,313.5 390.2,604 389.1,604" fill="#f3ae19"/><polygon points="430.3,313.5 431.7,313.5 393.3,604 391.2,604" fill="#ffd22e"/><polygon points="432.9,313.5 437.7,313.5 402.3,604 395.1,604" fill="#f7b91b"/><polygon points="432.4,313.5 433.7,313.5 396.3,604 394.3,604" fill="#e89c13"/><polygon points="433.7,313.5 434.4,313.5 397.4,604 396.3,604" fill="#f3ae19"/><polygon points="437.1,313.5 438.4,313.5 403.5,604 401.5,604" fill="#e89c13"/><polygon points="438.4,313.5 439.2,313.5 404.6,604 403.5,604" fill="#f3ae19"/><polygon points="439.8,313.5 441.2,313.5 407.7,604 405.6,604" fill="#ffd22e"/><polygon points="441.9,313.5 443,313.5 410.4,604 408.7,604" fill="#e89c13"/><polygon points="574.7,312.5 579.1,312.5 615.8,604 609.1,604" fill="#f7b91b"/><polygon points="574.1,312.5 575.4,312.5 610.3,604 608.3,604" fill="#e89c13"/><polygon points="575.4,312.5 576.2,312.5 611.4,604 610.3,604" fill="#f3ae19"/><polygon points="578.5,312.5 579.8,312.5 616.9,604 615,604" fill="#e89c13"/><polygon points="579.8,312.5 580.6,312.5 618.1,604 616.9,604" fill="#f3ae19"/><polygon points="581,312.5 582.4,312.5 620.8,604 618.8,604" fill="#ffd22e"/><polygon points="583.5,312.5 587.9,312.5 629.1,604 622.4,604" fill="#f7b91b"/><polygon points="582.9,312.5 584.2,312.5 623.6,604 621.6,604" fill="#e89c13"/><polygon points="584.2,312.5 585,312.5 624.7,604 623.6,604" fill="#f3ae19"/><polygon points="587.3,312.5 588.6,312.5 630.2,604 628.3,604" fill="#e89c13"/><polygon points="588.6,312.5 589.4,312.5 631.4,604 630.2,604" fill="#f3ae19"/><polygon points="589.9,312.5 591.2,312.5 634.1,604 632.1,604" fill="#ffd22e"/><polygon points="592.3,312.5 596.7,312.5 642.4,604 635.7,604" fill="#f7b91b"/><polygon points="591.7,312.5 593,312.5 636.9,604 634.9,604" fill="#e89c13"/><polygon points="593,312.5 593.8,312.5 638,604 636.9,604" fill="#f3ae19"/><polygon points="596.1,312.5 597.4,312.5 643.5,604 641.6,604" fill="#e89c13"/><polygon points="597.4,312.5 598.2,312.5 644.7,604 643.5,604" fill="#f3ae19"/><polygon points="598.7,312.5 600,312.5 647.4,604 645.4,604" fill="#ffd22e"/><polygon points="601.1,312.5 605.5,312.5 655.7,604 649.1,604" fill="#f7b91b"/><polygon points="600.5,312.5 601.8,312.5 650.2,604 648.2,604" fill="#e89c13"/><polygon points="601.8,312.5 602.6,312.5 651.3,604 650.2,604" fill="#f3ae19"/><polygon points="604.9,312.5 606.2,312.5 656.8,604 654.9,604" fill="#e89c13"/><polygon points="606.2,312.5 607,312.5 658,604 656.8,604" fill="#f3ae19"/><polygon points="607.5,312.5 608.8,312.5 660.7,604 658.7,604" fill="#ffd22e"/><polygon points="609.9,312.5 614.3,312.5 669,604 662.4,604" fill="#f7b91b"/><polygon points="609.3,312.5 610.6,312.5 663.5,604 661.5,604" fill="#e89c13"/><polygon points="610.6,312.5 611.4,312.5 664.6,604 663.5,604" fill="#f3ae19"/><polygon points="613.7,312.5 615,312.5 670.1,604 668.2,604" fill="#e89c13"/><polygon points="615,312.5 615.8,312.5 671.3,604 670.1,604" fill="#f3ae19"/><polygon points="616.3,312.5 617.6,312.5 674,604 672,604" fill="#ffd22e"/><polygon points="618.1,312.5 619.3,312.5 676.6,604 674.8,604" fill="#e89c13"/><polygon points="400.5,311.3 616.5,309.6 628.2,319.6 627.6,321 616,312.6 401,314.3 389.8,324.2 389,323" fill="#1c1c1c"/><ellipse cx="404.6" cy="314.2" rx="2.4" ry="1.6" fill="#1c1c1c"/><ellipse cx="414" cy="314.2" rx="2.4" ry="1.6" fill="#1c1c1c"/><ellipse cx="423.7" cy="314.2" rx="2.4" ry="1.6" fill="#1c1c1c"/><ellipse cx="433" cy="314.2" rx="2.4" ry="1.6" fill="#1c1c1c"/><ellipse cx="442" cy="314.2" rx="2.4" ry="1.6" fill="#1c1c1c"/><ellipse cx="575" cy="312.6" rx="2.4" ry="1.6" fill="#1c1c1c"/><ellipse cx="583.4" cy="312.6" rx="2.4" ry="1.6" fill="#1c1c1c"/><ellipse cx="592.2" cy="312.6" rx="2.4" ry="1.6" fill="#1c1c1c"/><ellipse cx="601" cy="312.6" rx="2.4" ry="1.6" fill="#1c1c1c"/><ellipse cx="609.8" cy="312.6" rx="2.4" ry="1.6" fill="#1c1c1c"/><polygon points="444.2,311.8 462.6,311.8 440.2,598 412.6,598" fill="#0ca5e9"/><polygon points="462.1,311.2 563.1,311.2 591.2,597.5 439.4,597.5" fill="#000"/><polygon points="561.7,310.8 571.3,310.6 604,596 589.9,596 581.4,504.8 565.4,496.6 555,365 565,360" fill="#0ca5e9"/><g font-family="'Liberation Sans', sans-serif" opacity=".996"><text transform="matrix(0.0200,0.740,-1.000,0,523,319.3)" font-size="14.8" font-weight="bold" fill="#fff" textLength="160.1" lengthAdjust="spacing" stroke="#fff" stroke-width=".6">POWER INVERTER</text><text transform="matrix(0.0300,1.000,-1.000,0,518.4,447.6)" font-size="44" font-weight="bold" fill="#fff" textLength="133" lengthAdjust="spacingAndGlyphs" stroke="#fff" stroke-width="2.8" stroke-linejoin="miter">3000W</text><text transform="matrix(0.0900,1.000,-1.000,0,561.8,387.3)" font-size="20.2" font-weight="bold" fill="#0a0a0a" textLength="72.5" lengthAdjust="spacingAndGlyphs" stroke="#0a0a0a" stroke-width="1.2">DC TO AC</text><text transform="matrix(-0.1000,1.000,-1.000,0,449.4,318.8)" font-size="9.8" font-weight="bold" fill="#0b1a24" textLength="31.6" lengthAdjust="spacingAndGlyphs">INPUT:12V</text><text transform="matrix(-0.1000,1.000,-1.000,0,445.8,355)" font-size="9.8" font-weight="bold" fill="#0b1a24" textLength="31" lengthAdjust="spacingAndGlyphs">OUTPUT:</text><text transform="matrix(-0.1000,1.000,-1.000,0,441.8,395)" font-size="9.8" font-weight="bold" fill="#0b1a24" textLength="15.8" lengthAdjust="spacingAndGlyphs">110V</text><text transform="matrix(-0.1000,1.000,-1.000,0,439.3,419.8)" font-size="9.8" font-weight="bold" fill="#0b1a24" textLength="20.8" lengthAdjust="spacingAndGlyphs">220V</text><path d="M443.2,388.4 l5.2,0 l-0.5,5 l-5.2,0Z" fill="none" stroke="#0b1a24" stroke-width=".8"/><path d="M440.7,413.2 l5.2,0 l-0.5,5 l-5.2,0Z" fill="none" stroke="#0b1a24" stroke-width=".8"/><text transform="matrix(-0.1000,1.000,-1.000,0,439.3,467)" font-size="10.4" font-weight="bold" fill="#0b1a24" textLength="24" lengthAdjust="spacingAndGlyphs" stroke="#0b1a24" stroke-width=".3">2XUSB4.1A</text><path d="M437.3,466 L433.6,500" stroke="#0b1a24" stroke-width="1"/><text transform="matrix(-0.1000,1.000,-1.000,0,430.6,468.2)" font-size="6.2" font-weight="bold" fill="#0b1a24" textLength="23" lengthAdjust="spacingAndGlyphs">SuperSpeed</text><path d="M430.5,500 L438.5,500.8 L437.6,510 Q433,513.5 429.6,509.2Z" fill="#101418"/><rect x="430" y="514" width="6" height="5" fill="#0b1a24" opacity=".55"/><text transform="matrix(-0.1000,1.000,-1.000,0,423.6,516.6)" font-size="20" font-weight="normal" fill="#0b0f12" textLength="17.5" lengthAdjust="spacingAndGlyphs" stroke="#0b0f12" stroke-width=".9">CЄ</text><text transform="matrix(-0.1000,1.000,-1.000,0,421.8,538.2)" font-size="21.5" font-weight="bold" fill="#0b0f12" textLength="19" lengthAdjust="spacingAndGlyphs" stroke="#0b0f12" stroke-width=".5">FC</text><ellipse cx="428.6" cy="567.5" rx="9.6" ry="8.2" fill="none" stroke="#0b0f12" stroke-width="1.3" transform="rotate(-8 428.6 567.5)"/><path d="M433.5,565.5 L430.3,568.6 L431.5,573" fill="none" stroke="#0b0f12" stroke-width="1.6"/><text transform="matrix(-0.1000,1.000,-1.000,0,424.6,561.5)" font-size="5" font-weight="bold" fill="#0b0f12" textLength="12" lengthAdjust="spacingAndGlyphs">RoHS</text><path d="M466.6,330.6 L502.6,330.4 Q503.9,330.4 503.9,331.8 L503.6,350.4 Q503.6,351.6 502.3,351.6 L466.2,351.9 Q464.8,351.9 464.9,350.6 L465.3,331.8 Q465.4,330.6 466.6,330.6Z" fill="none" stroke="#e8e8e8" stroke-width="1.1" stroke-linejoin="round"/><path d="M466.2,354.2 L502,353.9 Q503.4,353.9 503.4,355.3 L503,493.6 Q503,495 501.6,495 L458.8,495.3 Q457.3,495.3 457.4,493.8 L464.8,355.6 Q465,354.2 466.2,354.2Z" fill="none" stroke="#e8e8e8" stroke-width="1.1" stroke-linejoin="round"/><path d="M458.6,500 L501.6,499.7 Q503,499.7 503,501.1 L503.2,555.6 Q503.2,557 501.8,557 L454.2,557.4 Q452.6,557.4 452.7,555.9 L457.2,501.3 Q457.4,500 458.6,500Z" fill="none" stroke="#e8e8e8" stroke-width="1.1" stroke-linejoin="round"/><path d="M470,336 Q477,332.5 488,334.6 Q497,336.5 496.5,343 Q495,349 486,348.5 Q475,348.6 470,343.5 Q468,339 470,336Z" fill="#777" stroke="#e8e8e8" stroke-width=".8"/><path d="M484,336.5 L493,337.5 L492.5,345.5 L484.5,346Z" fill="#ddd"/><path d="M474,338 L481,337 L482,345 L476,344.5Z" fill="#333"/><text transform="matrix(0.0000,1.000,-1.000,0,497.6,334)" font-size="4.8" font-weight="bold" fill="#f39a1e" textLength="14" lengthAdjust="spacingAndGlyphs">For Car</text><text transform="matrix(0.0000,1.000,-1.000,0,495.2,386)" font-size="5.6" font-weight="bold" fill="#f39a1e" textLength="67" lengthAdjust="spacingAndGlyphs">For home/outdoor/solar</text><text transform="matrix(0.0000,1.000,-1.000,0,493.6,503)" font-size="5.4" font-weight="bold" fill="#f39a1e" textLength="52" lengthAdjust="spacingAndGlyphs">For usb charger</text><path d="M481,368.6 Q484,359.5 490,358.5 Q494,362 499,367.6 Q498,372.6 492,372.4 Q485,372 481,368.6Z" fill="#f2f2f2"/><ellipse cx="470.8" cy="369.2" rx="3.4" ry="5.2" fill="#222" stroke="#e8e8e8" stroke-width=".9"/><path d="M473.6,372.4 Q486,376 496,371" fill="none" stroke="#e8e8e8" stroke-width="1"/><path d="M468,380 L482.5,382.6 L480,396.5 L465.8,393.5Z" fill="#5a5a5a" stroke="#e8e8e8" stroke-width=".9"/><path d="M483.6,383.4 L496,384.4 L494.6,395.2 L481.6,394.6Z" fill="#f4f4f4"/><path d="M469.5,383 L479.5,385 M469,386 L479,388 M468.4,389 L478.4,391" stroke="#ddd" stroke-width=".8"/><rect x="471.6" y="399.4" width="20.6" height="23" fill="#111" stroke="#999" stroke-width="1"/><rect x="473.6" y="401" width="16.8" height="19.8" fill="#f6f6f6"/><text transform="matrix(0.0000,1.000,-1.000,0,478.6,406)" font-size="7" font-weight="bold" fill="#222" textLength="9" lengthAdjust="spacingAndGlyphs">TV</text><ellipse cx="467.2" cy="411" rx="2.9" ry="5.4" fill="#f0f0f0"/><rect x="469.4" y="410" width="3" height="2" fill="#ddd"/><path d="M462.4,436.6 L471.6,426.6 L477.2,430.6 L467.2,441.2Z" fill="#8a8a8a" stroke="#bbb" stroke-width=".7"/><path d="M478.6,432.2 L494.6,432.4 L488.4,442 L471.4,441.6Z" fill="#f4f4f4"/><path d="M462.6,441.2 L466.6,443.6" stroke="#ddd" stroke-width="1.6"/><path d="M462.6,448.2 L477.6,447.8 Q480,448.4 482,455.6 L484,460.2 L489,461 L488.6,468.8 L483.6,469.4 L480,473.2 L461.6,473.8 Q460.4,473.8 460.6,472 L461.8,449.4 Q462,448.2 462.6,448.2Z" fill="#0c0c0c" stroke="#e8e8e8" stroke-width="1"/><ellipse cx="471" cy="462.2" rx="8" ry="6.4" fill="none" stroke="#aaa" stroke-width="1.2"/><ellipse cx="471.2" cy="462.3" rx="4.3" ry="2.7" fill="#f6f6f6"/><rect x="483.4" y="461.4" width="5" height="6.6" fill="#888"/><ellipse cx="462.8" cy="484.8" rx="2.7" ry="4" fill="#111" stroke="#e8e8e8" stroke-width=".9"/><path d="M465.6,484.6 L480,484.4" stroke="#e8e8e8" stroke-width="1.3"/><ellipse cx="489.6" cy="484.6" rx="9.8" ry="6.9" fill="#1a1a1a" stroke="#e8e8e8" stroke-width="1"/><ellipse cx="489.6" cy="484.6" rx="6.6" ry="4.4" fill="none" stroke="#bbb" stroke-width="1.6" stroke-dasharray="2 1.4"/><ellipse cx="489.6" cy="484.6" rx="2" ry="1.5" fill="#eee"/><path d="M463.4,507 L489.2,506.6 L489.4,524.2 L462,524.6Z" fill="#f3f3f3"/><rect x="468" y="510.5" width="3.2" height="10" fill="#333"/><rect x="478" y="511.5" width="7" height="2.6" fill="#555"/><rect x="478" y="517" width="7" height="2.6" fill="#555"/><path d="M462.6,533.8 L485.6,533.5 L485.7,546.6 L461.4,546.9Z" fill="#f3f3f3"/><rect x="466.6" y="536.4" width="2.8" height="7.6" fill="#333"/><rect x="475" y="536.4" width="6.6" height="2.2" fill="#555"/><rect x="475" y="541" width="6.6" height="2.2" fill="#555"/></g><polygon points="345.5,599.8 675.4,595.3 692.3,608.5 678,700 677.5,712.5 349,712.5 348.5,706 329.8,614.6" fill="#161616"/><polygon points="345.5,599.8 675.4,595.3 683,601.5 338,607" fill="#1f1f1f"/><polygon points="338,607 683,601.5 684,603 338,609" fill="#101010"/><polygon points="329.8,614.6 338,607 352,700 348.5,706" fill="#1a1a1a"/><polygon points="692.3,608.5 684,603 672,700 678,700" fill="#1b1b1b"/><circle cx="345.4" cy="619.7" r="7.2" fill="#0c0c0c"/><circle cx="345.9" cy="620.5" r="4.2" fill="#1f1f1f"/><path d="M342.4,621.2 L348.9,619.2" stroke="#0a0a0a" stroke-width="1.4"/><circle cx="675.4" cy="615" r="7" fill="#0c0c0c"/><circle cx="675.9" cy="615.8" r="4" fill="#1f1f1f"/><path d="M672.4,616.5 L678.9,614.5" stroke="#0a0a0a" stroke-width="1.4"/><ellipse cx="362.6" cy="713" rx="7.3999999999999995" ry="6.0" fill="#0b0b0b"/><ellipse cx="361.6" cy="711.4" rx="3.3999999999999995" ry="1.6" fill="#2c2c2c"/><ellipse cx="660.8" cy="710.5" rx="7.0" ry="5.6000000000000005" fill="#0b0b0b"/><ellipse cx="659.8" cy="708.9" rx="3.0" ry="1.6" fill="#2c2c2c"/><rect x="359.5" y="626" width="13" height="3.2" rx="1" fill="#3a3a3a"/><rect x="364" y="657.5" width="19" height="3.4" rx="1" fill="#333"/><rect x="372" y="684.5" width="14" height="3.2" rx="1" fill="#303030"/><rect x="359.2" y="636.2" width="18" height="6.6" rx="0.8" fill="#2edb63"/><rect x="361.5" y="637.6" width="13.5" height="3.2" rx="0.8" fill="#8af5b0"/><rect x="361.4" y="646.8" width="17.6" height="6.4" rx="0.8" fill="#f0261c"/><rect x="364" y="648.2" width="12.5" height="2.8" rx="0.8" fill="#ff5a4a"/><rect x="366" y="666" width="18.5" height="6" rx="3" fill="#0a0a0a"/><rect x="368" y="676.3" width="17.5" height="6" rx="3" fill="#0a0a0a"/><polygon points="377.5,615.5 457.5,614.5 456,620 436,624.8 434,630 380,630.5" fill="#0b0b0b"/><polygon points="381,625.5 433,624.5 437,670 436,686 392,687 384,640" fill="#0d0d0d"/><polygon points="388.4,636.3 423.5,635.5 424.3,650.6 389.5,651.4" fill="#2f2f2f"/><polygon points="389.5,652.2 426,651.4 428.5,668.5 393,669.2" fill="#161616"/><ellipse cx="410" cy="663.2" rx="5.6" ry="3.3" fill="none" stroke="#4a4a4a" stroke-width="1.3"/><polygon points="392,672 435.5,671.2 437,686 395,686.5" fill="#0a0a0a"/><polygon points="396,674 434.3,673.3 434.8,679 397,679.6" fill="#d9dad2"/><polygon points="399.2,680.8 433.8,680.2 434,683.3 399.8,683.8" fill="#f4f4f0"/><polygon points="395,687 437.5,686.4 439,701 398,701.6" fill="#0a0a0a"/><polygon points="398.3,688.7 436.4,688 436.9,693.8 399.3,694.4" fill="#d9dad2"/><polygon points="402.4,695.8 435.2,695.3 435.4,698.4 403,698.8" fill="#f4f4f0"/><rect x="451.5" y="624.4" width="24.5" height="5.8" rx="2.9" fill="#070707"/><rect x="441.5" y="635.5" width="36" height="5.8" rx="2.9" fill="#070707"/><rect x="442.5" y="646.7" width="35" height="5.8" rx="2.9" fill="#070707"/><rect x="444" y="657.1" width="34.5" height="5.8" rx="2.9" fill="#070707"/><rect x="445.5" y="667.3" width="33.5" height="5.8" rx="2.9" fill="#070707"/><rect x="447" y="677.1" width="33" height="5.8" rx="2.9" fill="#070707"/><rect x="448.5" y="686.6" width="32.5" height="5.8" rx="2.9" fill="#070707"/><rect x="450" y="694.9" width="31" height="5.8" rx="2.9" fill="#070707"/><text x="483" y="616.5" font-family="'Liberation Sans', sans-serif" font-size="7" font-weight="bold" fill="#0c0c0c" textLength="72" lengthAdjust="spacingAndGlyphs" transform="rotate(-1 483 616)">AC OUTPUT</text><polygon points="478.6,619.7 635,616.6 630.5,625 489.4,628.3" fill="#2b2b29"/><polygon points="478.6,619.7 489.4,628.3 490.5,713.4 481,709" fill="#262624"/><polygon points="635,616.6 630.5,625 626.5,710.5 639.5,705" fill="#242422"/><polygon points="489.4,628.3 630.5,625 626.5,710.8 490.5,713.6" fill="#3b3b38"/><path d="M478.6,619.7 L635,616.6" stroke="#4a4a46" stroke-width="1"/><ellipse cx="520.5" cy="672" rx="21" ry="9.6" fill="#060606"/><ellipse cx="552" cy="671" rx="15.5" ry="8.6" fill="#060606"/><rect x="498.5" y="666.3" width="14" height="12.8" rx="1.5" fill="#060606"/><rect x="520" y="666.5" width="32" height="10" rx="2" fill="#060606"/><ellipse cx="580" cy="670" rx="6.6" ry="4.8" fill="#060606"/><ellipse cx="599.5" cy="670" rx="8.2" ry="5.6" fill="#060606"/><path d="M592,634 L610,633.6 L610.5,648 L615,648.5 L615,658.5 L580,659 L579,655 L584,650 L584.5,645 L590,641Z" fill="#060606"/><path d="M579.5,683.5 L598,683.2 L598.5,681.5 L612.5,681.3 L612.2,688 L608,689 L607.5,705.6 L590,706 L586,701 L584,694 L580,690Z" fill="#060606"/><rect x="506" y="649.5" width="9" height="5" rx="2" fill="#8f8f8c"/><rect x="564.5" y="641" width="9" height="3.4" rx="1.5" fill="#7a7a78"/><rect x="558.5" y="692" width="8.5" height="3.4" rx="1.5" fill="#777"/><rect x="641" y="631.6" width="27.5" height="5.6" rx="2.8" fill="#060606"/><rect x="639.5" y="642.2" width="27.5" height="5.6" rx="2.8" fill="#060606"/><rect x="638.2" y="652.4" width="27.5" height="5.6" rx="2.8" fill="#060606"/><rect x="636.8" y="663" width="27.5" height="5.6" rx="2.8" fill="#060606"/><rect x="635.5" y="673.2" width="27.5" height="5.6" rx="2.8" fill="#060606"/><rect x="634" y="682.8" width="27.5" height="5.6" rx="2.8" fill="#060606"/><rect x="632.8" y="691.7" width="27.5" height="5.6" rx="2.8" fill="#060606"/></g>
<g id="watermark"><g fill="#dedede" fill-opacity=".62"><text x="79 151.4 223.8 296.2 368.6 441 513.4 585.8 658.2 730.6 803 875.4" y="551.5" font-family="'Liberation Sans', 'Noto Sans CJK SC', sans-serif" font-size="70">广州索耐能源科技有限公司</text></g></g>
</svg>
</body></html>
